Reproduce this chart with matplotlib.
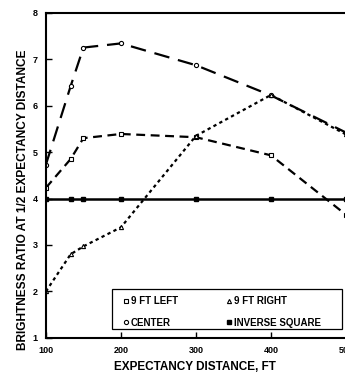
import matplotlib
matplotlib.use("Agg")
import matplotlib.pyplot as plt
from matplotlib.patches import Rectangle

plt.rcParams['font.family'] = ['Liberation Sans', 'DejaVu Sans']
plt.rcParams['font.weight'] = 'bold'

distance = [100, 133, 150, 200, 300, 400, 500]
left_9ft = [4.23, 4.85, 5.30, 5.39, 5.32, 4.93, 3.65]
right_9ft = [2.00, 2.80, 2.97, 3.38, 5.35, 6.23, 5.38]
center = [4.73, 6.42, 7.25, 7.34, 6.87, 6.22, 5.42]
inverse_sq = [4.0, 4.0, 4.0, 4.0, 4.0, 4.0, 4.0]

xticks = [100, 200, 300, 400, 500]
yticks = [1, 2, 3, 4, 5, 6, 7, 8]

fig = plt.figure(figsize=(3.45, 3.75), dpi=100)
ax = fig.add_axes([0.133, 0.099, 1.003 - 0.133, 0.966 - 0.099])

ax.plot(distance, left_9ft, color='black', lw=1.6, dashes=(4, 2.5),
        marker='s', ms=3, mfc='white', mec='black', mew=0.8, label='9 FT LEFT')
ax.plot(distance, center, color='black', lw=1.6, dashes=(7, 4),
        marker='o', ms=3, mfc='white', mec='black', mew=0.8, label='CENTER')
ax.plot(distance, right_9ft, color='black', lw=1.6, dashes=(1.5, 1.5),
        marker='^', ms=3, mfc='white', mec='black', mew=0.8, label='9 FT RIGHT')
ax.plot(distance, inverse_sq, color='black', lw=1.8, ls='-',
        marker='s', ms=3.5, mfc='black', mec='black', label='INVERSE SQUARE')

ax.set_xlim(100, 500)
ax.set_ylim(1, 8)
ax.set_xticks(xticks)
ax.set_yticks(yticks)
ax.tick_params(direction='in', length=4, width=1, labelsize=6.5, pad=6)
for lab in ax.get_xticklabels() + ax.get_yticklabels():
    lab.set_fontweight('bold')
for s in ax.spines.values():
    s.set_linewidth(1.5)

ax.set_xlabel('EXPECTANCY DISTANCE, FT', fontsize=8.5, fontweight='bold')
ax.set_ylabel('BRIGHTNESS RATIO AT 1/2 EXPECTANCY DISTANCE', fontsize=8.6, fontweight='bold')
ax.xaxis.set_label_coords(0.497, -0.072)
ax.yaxis.set_label_coords(-0.055, 0.425)

# legend box
ax.add_patch(Rectangle((0.22, 0.0275), 0.987 - 0.22, 0.122, transform=ax.transAxes,
                       facecolor='white', edgecolor='black', lw=0.9, zorder=4))
leg = ax.legend(ncol=2, loc='lower left', bbox_to_anchor=(0.225, 0.0),
                fontsize=7, frameon=False,
                handlelength=0.5, handletextpad=0.25, columnspacing=5.0,
                labelspacing=1.15, borderpad=0.55)
leg.set_zorder(5)
for t in leg.get_texts():
    t.set_fontweight('bold')
for h in leg.legend_handles:
    h.set_linestyle('')

fig.savefig('out.png', dpi=100)
